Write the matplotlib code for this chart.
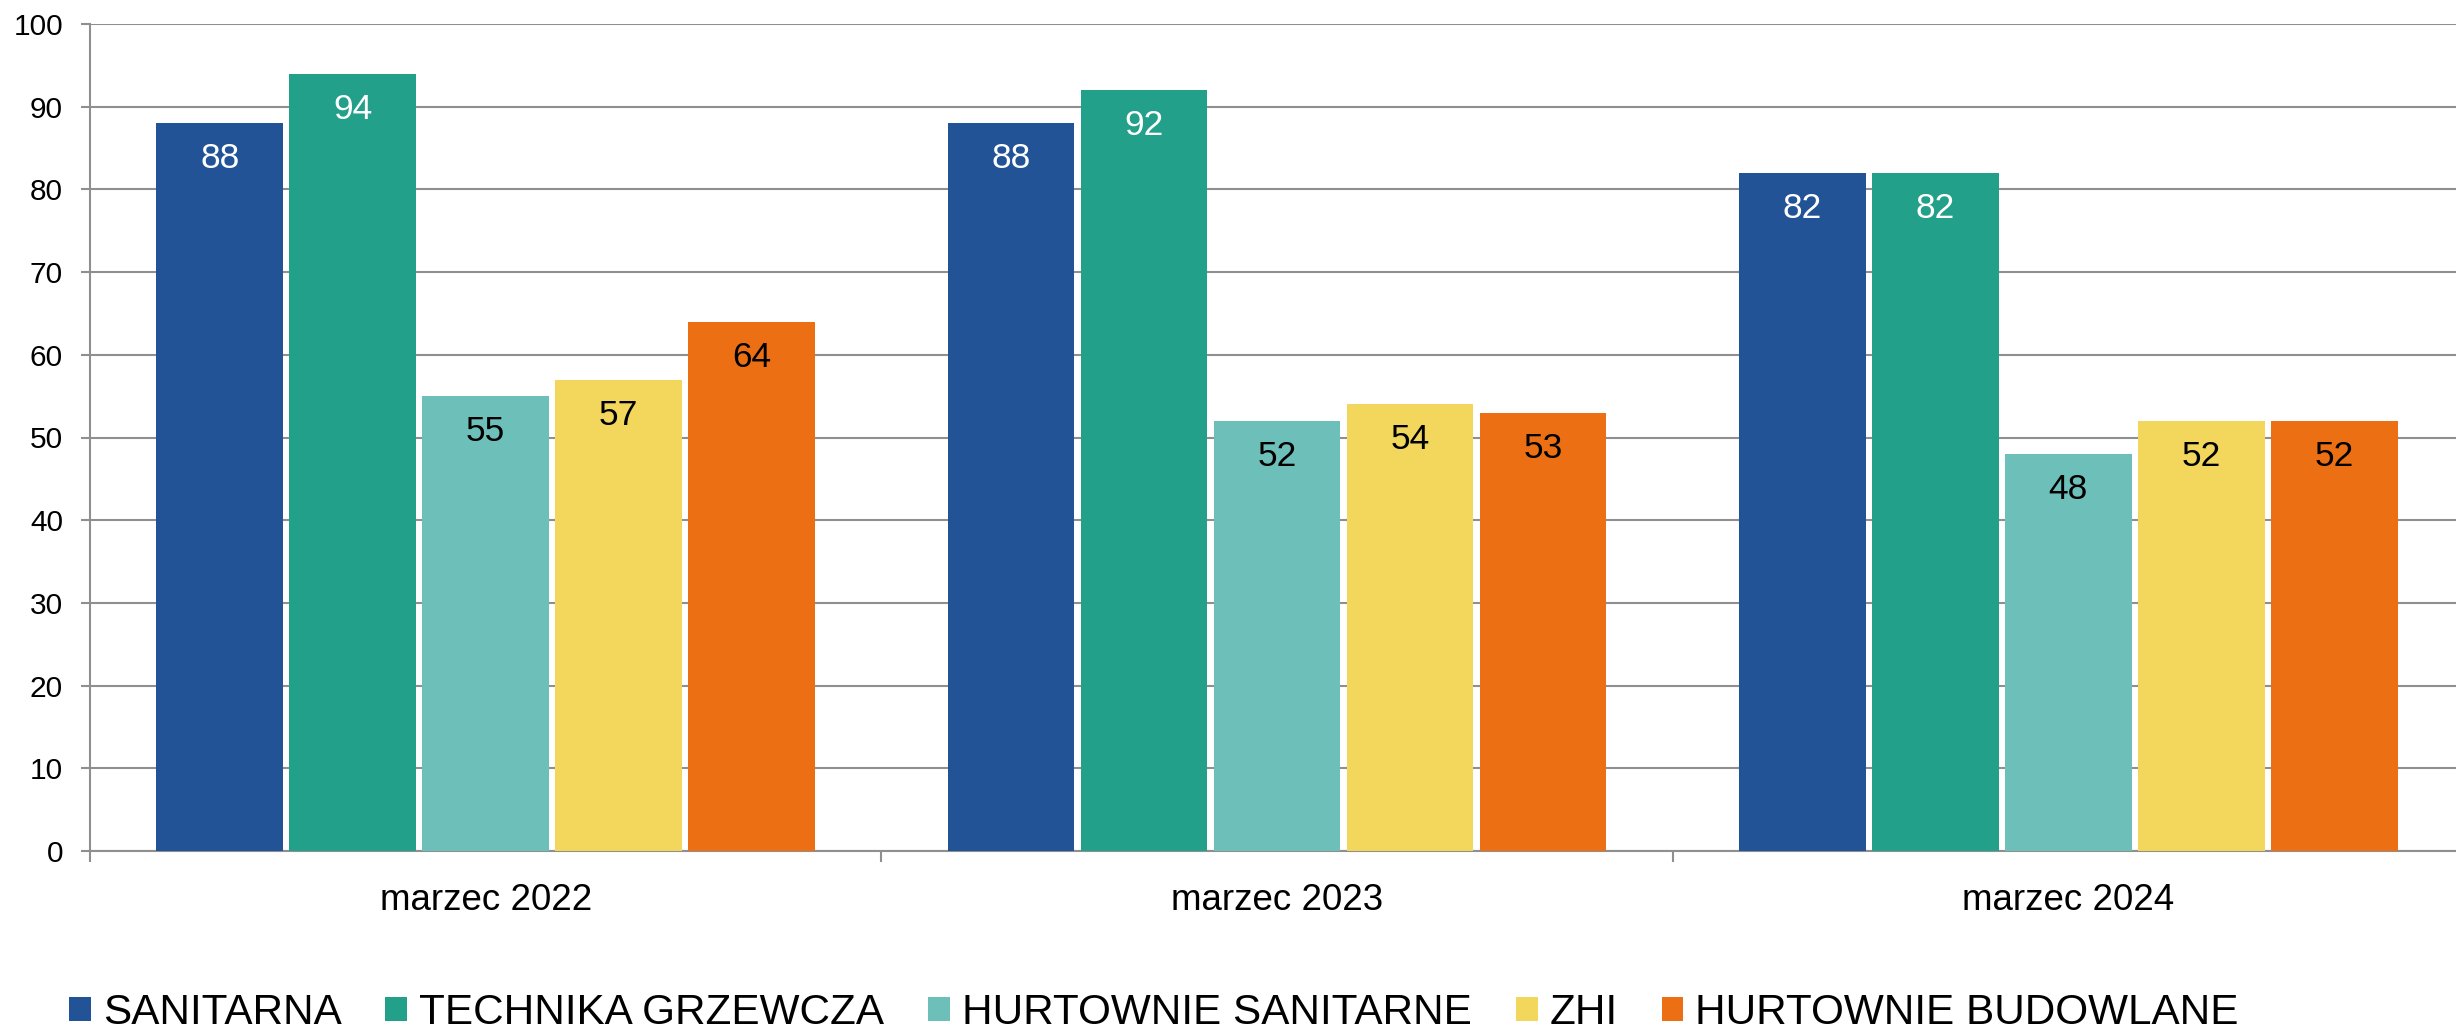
import numpy as np
import matplotlib
matplotlib.use("Agg")
import matplotlib.pyplot as plt
from matplotlib.patches import Patch

plt.rcParams['font.family'] = ['Liberation Sans', 'DejaVu Sans']

# dane
categories = ['marzec 2022', 'marzec 2023', 'marzec 2024']
series = ['SANITARNA', 'TECHNIKA GRZEWCZA', 'HURTOWNIE SANITARNE', 'ZHI', 'HURTOWNIE BUDOWLANE']
sanitarna = [88, 88, 82]
technika_grzewcza = [94, 92, 82]
hurtownie_sanitarne = [55, 52, 48]
zhi = [57, 54, 52]
hurtownie_budowlane = [64, 53, 52]
values = [sanitarna, technika_grzewcza, hurtownie_sanitarne, zhi, hurtownie_budowlane]

colors = ['#215396', '#23A08A', '#6DBFBA', '#F2D75C', '#EC7013']
label_colors = ['white', 'white', 'black', 'black', 'black']

W, H = 2456, 1031
fig = plt.figure(figsize=(W / 100, H / 100), dpi=100)
# oś trochę wychodzi poza prawą krawędź, jak w oryginale
ax = fig.add_axes([90 / W, (H - 851) / H, 2374 / W, (851 - 24) / H])

x = np.arange(len(categories))
step = 0.168
width = 0.160
for i, (vals, col, lc) in enumerate(zip(values, colors, label_colors)):
    pos = x + (i - 2) * step
    bars = ax.bar(pos, vals, width=width, color=col, zorder=3)
    for b, v in zip(bars, vals):
        ax.annotate(str(v), (b.get_x() + b.get_width() / 2, v), xytext=(0, -25.5),
                    textcoords='offset points', ha='center', va='center',
                    fontsize=25.5, color=lc, zorder=4)

ax.set_xlim(-0.5, 2.5)
ax.set_ylim(0, 100)
ax.set_yticks(np.arange(0, 101, 10))
ax.yaxis.grid(True, color='#8f8f8f', linewidth=1.5, zorder=0)
ax.set_axisbelow(True)

ax.set_xticks(x)
ax.set_xticklabels(categories, fontsize=26.5)
ax.set_xticks([-0.5, 0.5, 1.5, 2.5], minor=True)
ax.tick_params(axis='x', which='major', length=0, pad=23)
ax.tick_params(axis='x', which='minor', length=8, width=1.5, color='#8f8f8f')
ax.tick_params(axis='y', labelsize=21.5, length=6.5, width=1.5, color='#8f8f8f', pad=13)

for s in ['top', 'right']:
    ax.spines[s].set_visible(False)
for s in ['left', 'bottom']:
    ax.spines[s].set_color('#8f8f8f')
    ax.spines[s].set_linewidth(1.5)

handles = [Patch(facecolor=c, edgecolor='none') for c in colors]
fig.legend(handles, series, loc='center left', bbox_to_anchor=(69 / W, (H - 1013) / H),
           ncol=5, frameon=False, fontsize=30.4, borderpad=0, borderaxespad=0,
           handlelength=0.52, handleheight=0.52, handletextpad=0.28, columnspacing=1.04)

fig.savefig('out.png', dpi=100)
